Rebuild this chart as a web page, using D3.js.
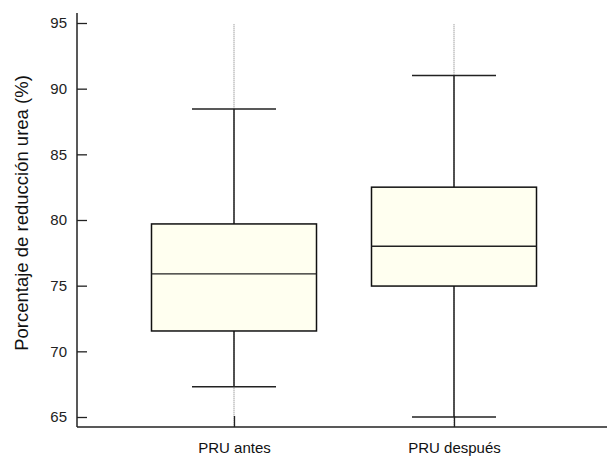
<!DOCTYPE html>
<html>
<head>
<meta charset="utf-8">
<script src="https://cdn.jsdelivr.net/npm/d3@7"></script>
<style>
  body { margin: 0; background: #fff; }
  svg { display: block; font-family: "Liberation Sans", Arial, sans-serif; }
</style>
</head>
<body>
<div id="chart"></div>
<script>
// box plot data
let categories = ["PRU antes", "PRU después"];
let whiskerLow = [67.3, 65.0];
let q1 = [71.55, 74.97];
let medians = [75.9, 78.0];
let q3 = [79.7, 82.5];
let whiskerHigh = [88.45, 91.0];
let yTicks = [65, 70, 75, 80, 85, 90, 95];

let svgWidth = 607;
let svgHeight = 457;

let svg = d3.select("#chart")
    .append("svg")
    .attr("width", svgWidth)
    .attr("height", svgHeight);

let axisX = 77;
let axisY = 427;

let y = d3.scaleLinear()
    .domain([65, 95])
    .range([417, 23]);

let x = d3.scalePoint()
    .domain(categories)
    .range([234, 454]);

let boxWidth = 165;
let capWidth = 84;

let rows = categories.map((c, i) => ({
    cat: c, lo: whiskerLow[i], q1: q1[i], med: medians[i], q3: q3[i], hi: whiskerHigh[i]
}));

// dotted guide lines behind the boxes
svg.selectAll(".guide")
    .data(rows)
    .enter()
    .append("line")
    .attr("x1", d => x(d.cat))
    .attr("x2", d => x(d.cat))
    .attr("y1", y(94.9))
    .attr("y2", axisY)
    .attr("stroke", "#777")
    .attr("stroke-width", 1)
    .attr("stroke-dasharray", "1,1");

// whiskers
let wStroke = "#222";
rows.forEach(d => {
    let cx = x(d.cat);
    svg.append("line")
        .attr("x1", cx).attr("x2", cx)
        .attr("y1", y(d.hi)).attr("y2", y(d.q3))
        .attr("stroke", wStroke).attr("stroke-width", 1.5);
    svg.append("line")
        .attr("x1", cx).attr("x2", cx)
        .attr("y1", y(d.q1)).attr("y2", y(d.lo))
        .attr("stroke", wStroke).attr("stroke-width", 1.5);
    svg.append("line")
        .attr("x1", cx - capWidth / 2).attr("x2", cx + capWidth / 2)
        .attr("y1", y(d.hi)).attr("y2", y(d.hi))
        .attr("stroke", wStroke).attr("stroke-width", 1.5);
    svg.append("line")
        .attr("x1", cx - capWidth / 2).attr("x2", cx + capWidth / 2)
        .attr("y1", y(d.lo)).attr("y2", y(d.lo))
        .attr("stroke", wStroke).attr("stroke-width", 1.5);
});

// boxes
svg.selectAll(".box")
    .data(rows)
    .enter()
    .append("rect")
    .attr("x", d => x(d.cat) - boxWidth / 2)
    .attr("y", d => y(d.q3))
    .attr("width", boxWidth)
    .attr("height", d => y(d.q1) - y(d.q3))
    .attr("fill", "#fffff0")
    .attr("stroke", "#111")
    .attr("stroke-width", 1.5);

// medians
svg.selectAll(".median")
    .data(rows)
    .enter()
    .append("line")
    .attr("x1", d => x(d.cat) - boxWidth / 2)
    .attr("x2", d => x(d.cat) + boxWidth / 2)
    .attr("y1", d => y(d.med))
    .attr("y2", d => y(d.med))
    .attr("stroke", "#222")
    .attr("stroke-width", 1.3);

// y axis
let leftAxis = d3.axisLeft(y)
    .tickValues(yTicks)
    .tickSizeInner(-10)
    .tickSizeOuter(0)
    .tickPadding(10);

let yAxis = svg.append("g")
    .attr("transform", `translate(${axisX},0)`)
    .call(leftAxis);
yAxis.select(".domain").remove();
yAxis.selectAll("line").attr("stroke", "#222").attr("stroke-width", 1.3);
yAxis.selectAll("text")
    .attr("font-size", 15)
    .attr("fill", "#222")
    .attr("font-family", "Liberation Sans, Arial, sans-serif");

// x axis
let bottomAxis = d3.axisBottom(x)
    .tickSizeInner(-11)
    .tickSizeOuter(0)
    .tickPadding(15);

let xAxis = svg.append("g")
    .attr("transform", `translate(0,${axisY})`)
    .call(bottomAxis);
xAxis.select(".domain").remove();
xAxis.selectAll("line").attr("stroke", "#222").attr("stroke-width", 1.3);
xAxis.selectAll("text")
    .attr("font-size", 15)
    .attr("fill", "#111")
    .attr("font-family", "Liberation Sans, Arial, sans-serif");

// axis lines
svg.append("line")
    .attr("x1", axisX).attr("x2", axisX)
    .attr("y1", 13).attr("y2", axisY)
    .attr("stroke", "#222").attr("stroke-width", 1.5);
svg.append("line")
    .attr("x1", axisX).attr("x2", svgWidth)
    .attr("y1", axisY).attr("y2", axisY)
    .attr("stroke", "#222").attr("stroke-width", 1.5);

// y label
svg.append("text")
    .attr("transform", `translate(28,213) rotate(-90)`)
    .attr("text-anchor", "middle")
    .attr("font-size", 18.5)
    .attr("fill", "#111")
    .text("Porcentaje de reducción urea (%)");
</script>
</body>
</html>
